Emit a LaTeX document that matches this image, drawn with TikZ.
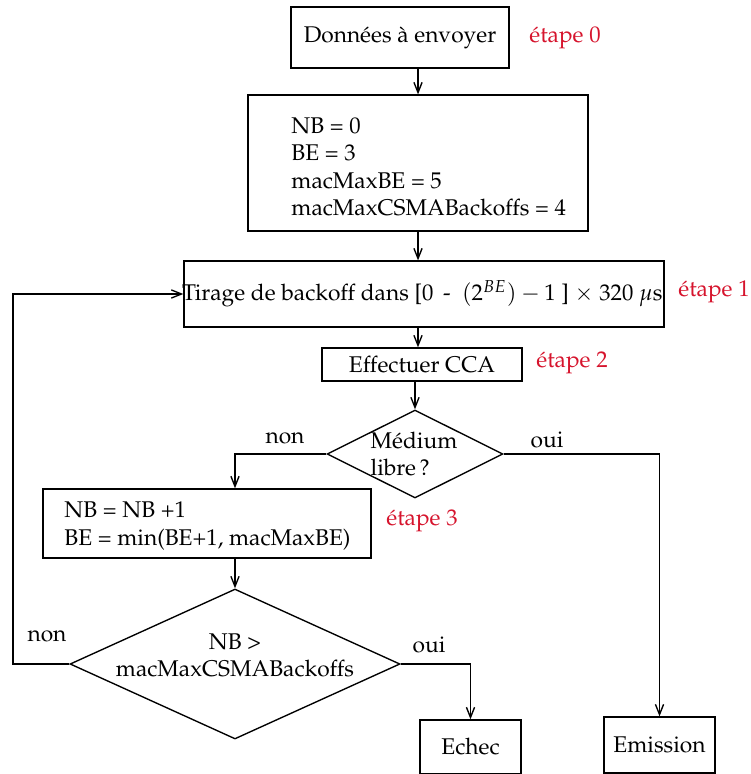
\documentclass[tikz,border=0pt]{standalone}
\usepackage[T1]{fontenc}
\usepackage{mathpazo}
\usetikzlibrary{shapes.geometric,arrows.meta}
\definecolor{etape}{RGB}{214,20,45}
\begin{document}
\begin{tikzpicture}[x=0.44pt,y=-0.44pt,
  box/.style={draw, rectangle, line width=0.6pt, inner sep=0},
  dia/.style={draw, diamond, line width=0.6pt, inner sep=0},
  txt/.style={inner sep=0},
  etp/.style={inner sep=0, text=etape},
  arr/.style={line width=0.6pt, -{Straight Barb[length=4.5pt,width=3.6pt]}}]
\useasboundingbox (0,0) rectangle (750,774);
% boxes
\node[box, minimum width=95.9pt, minimum height=26.8pt] (d0) at (400,37.5) {Donn\'ees \`a envoyer};
\node[box, minimum width=149.6pt, minimum height=59.8pt] (init) at (418,163) {};
\node[txt, anchor=west, align=left] (initt) at (291,167) {NB = 0\\BE = 3\\macMaxBE = 5\\macMaxCSMABackoffs = 4};
\node[box, minimum width=211.2pt, minimum height=29pt] (tirage) at (424,294) {};
\node[txt, anchor=east] (tiraget) at (663,294) {Tirage de backoff dans [0~\,-~~$(2^{BE})-1$~]~$\times$~320~$\mu$s};
\node[box, minimum width=88pt, minimum height=14.5pt] (cca) at (422,364.5) {Effectuer CCA};
\node[dia, minimum width=77.4pt, minimum height=38.7pt] (med) at (415,454) {};
\node[txt, align=left] (medt) at (414,454) {M\'edium\\libre\,?};
\node[box, minimum width=144.3pt, minimum height=30.4pt] (inc) at (207,523.5) {};
\node[txt, anchor=west, align=left] (inct) at (64,526) {NB = NB +1\\BE = min(BE+1, macMaxBE)};
\node[dia, minimum width=145.2pt, minimum height=66pt] (nbmax) at (235,664) {};
\node[txt, align=center] (nbmaxt) at (235,655) {NB \textgreater\\macMaxCSMABackoffs};
\node[box, minimum width=44.4pt, minimum height=23.8pt] (echec) at (470.5,747) {Echec};
\node[box, minimum width=48.8pt, minimum height=24.6pt] (emis) at (659.5,745) {Emission};
% step labels
\node[etp] (e0) at (565,38) {\'etape 0};
\node[etp] (e1) at (714,292) {\'etape 1};
\node[etp] (e2) at (572,363) {\'etape 2};
\node[etp] (e3) at (422,521) {\'etape 3};
% branch labels
\node[txt] (non1) at (285,438) {non};
\node[txt] (oui1) at (547,440) {oui};
\node[txt] (non2) at (47,636) {non};
\node[txt] (oui2) at (429,645) {oui};
% helper coordinates
\coordinate (lcol) at (235,500);
\coordinate (back) at (13,664);
% connectors
\draw[arr] (d0.south -| init.north) -- (init.north);
\draw[arr] (init.south) -- (init.south |- tirage.north);
\draw[arr] (init.south |- tirage.south) -- (init.south |- cca.north);
\draw[arr] (cca.south -| med.north) -- (med.north);
\draw[arr] (med.west) -| (lcol |- inc.north);
\draw[arr] (med.east) -| (emis.north);
\draw[arr] (lcol |- inc.south) -- (nbmax.north);
\draw[arr] (nbmax.east) -| (echec.north);
\draw[arr] (nbmax.west) -- (back) |- (tirage.west);
\end{tikzpicture}
\end{document}
